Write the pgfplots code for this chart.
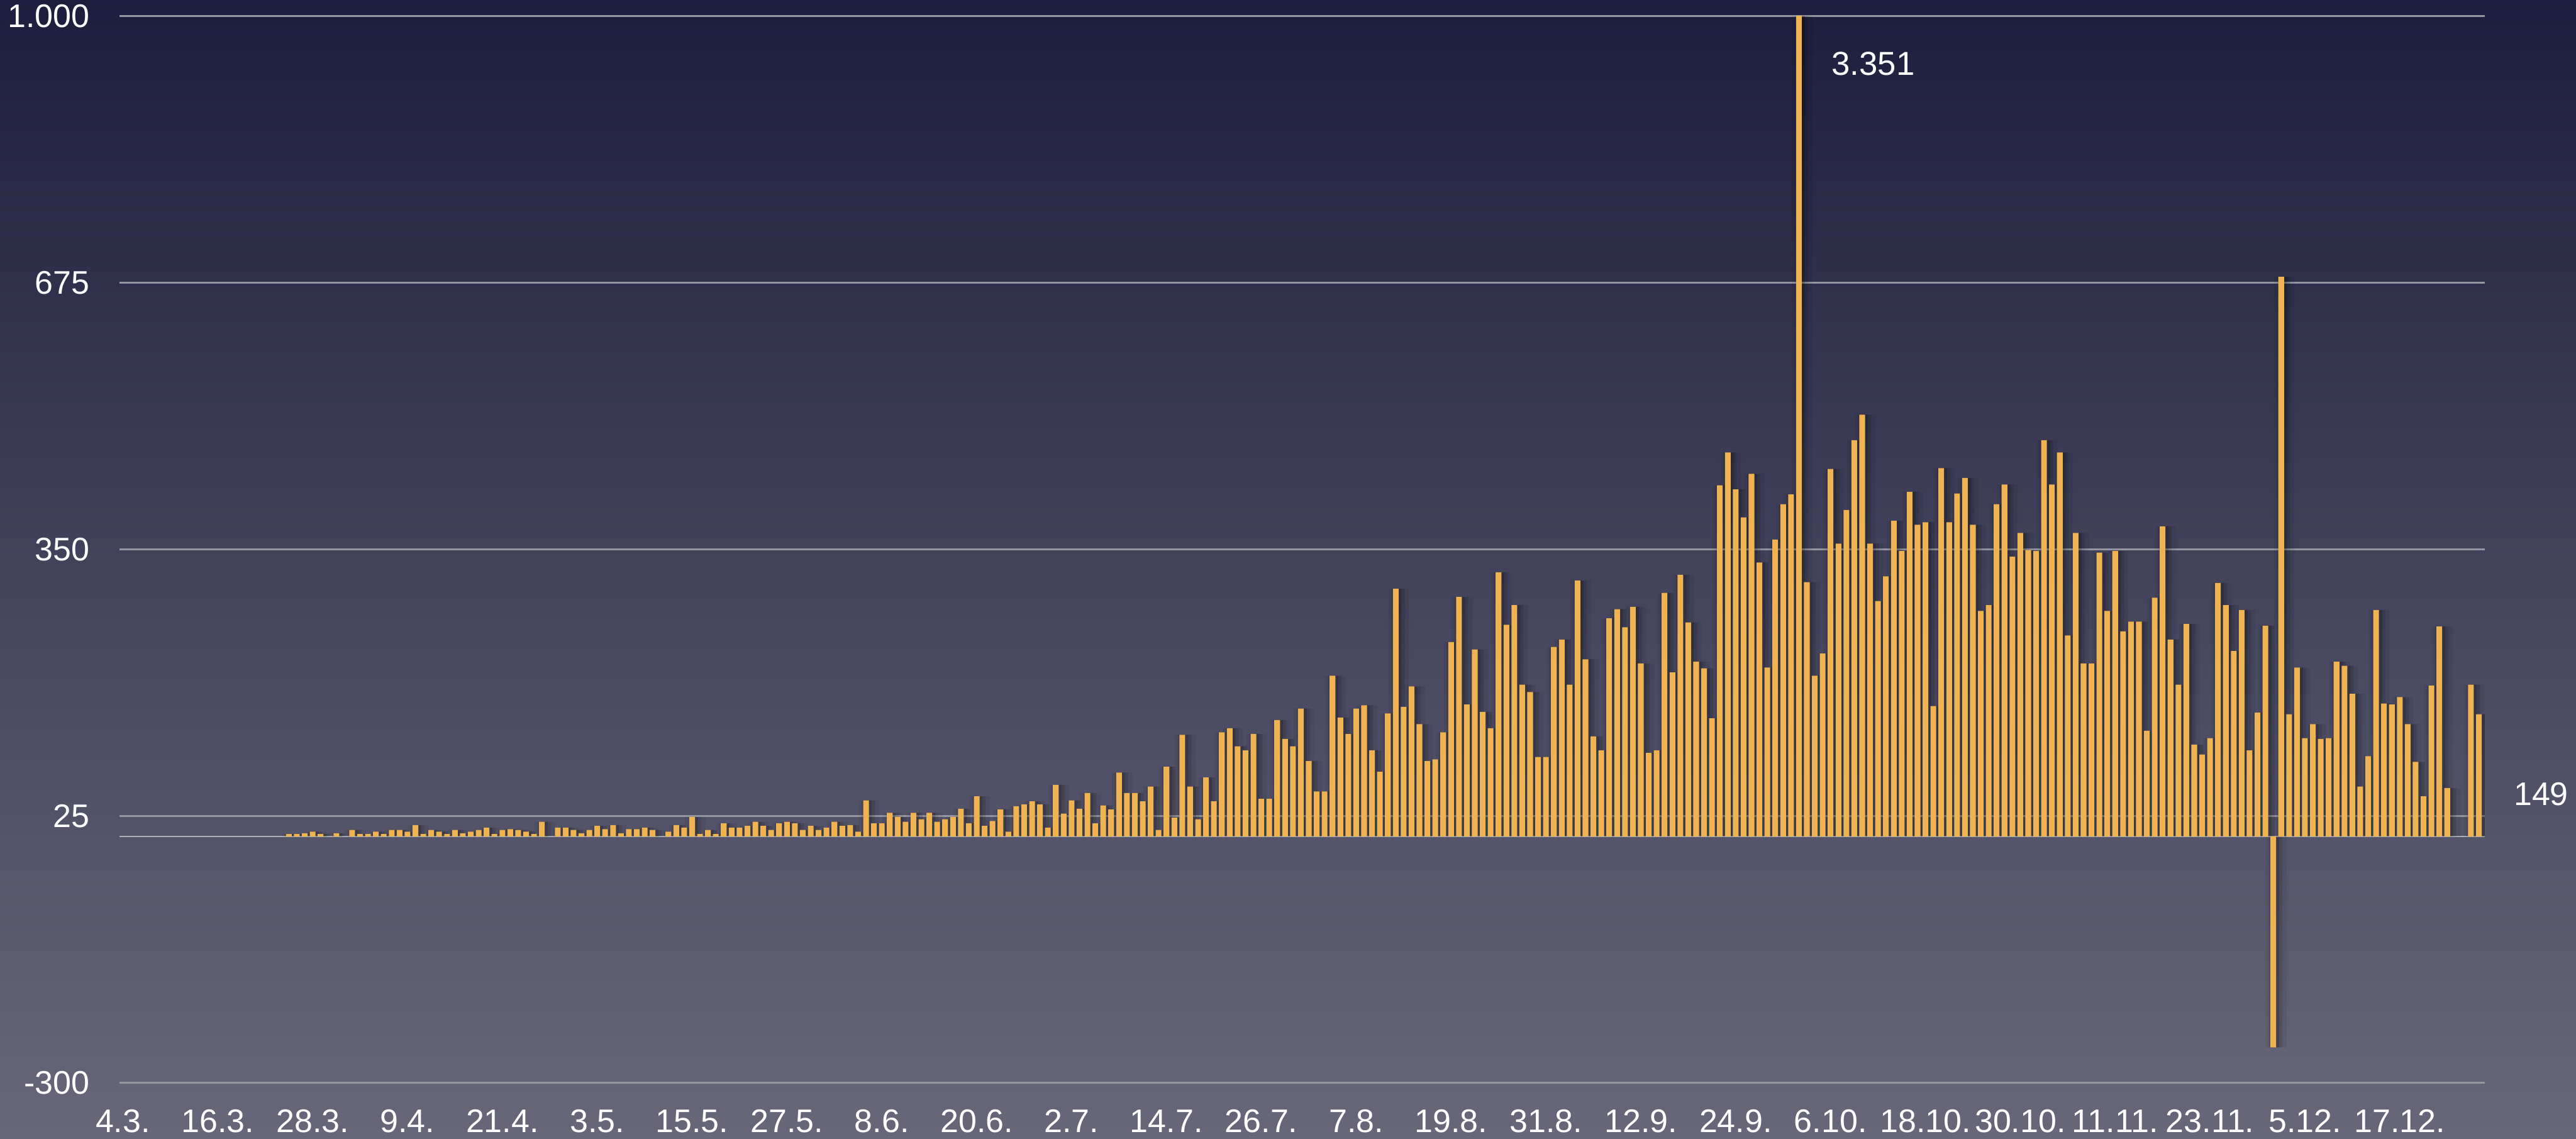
\documentclass[border=0pt]{standalone}
\usepackage{fontspec}
\setmainfont{Liberation Sans}
\usepackage{pgfplots}
\usepackage{pgfplotstable}
\pgfplotsset{compat=1.18}
\definecolor{bgtop}{RGB}{29,30,61}
\definecolor{bgbot}{RGB}{104,103,122}
\definecolor{barc}{RGB}{239,179,82}
\definecolor{gridc}{RGB}{150,150,162}
\definecolor{basec}{RGB}{175,175,182}

\pgfplotstableread{
day val
21 3
22 3
23 4
24 6
25 3
27 4
29 8
30 3
31 3
32 6
33 3
34 8
35 8
36 6
37 14
38 3
39 8
40 6
41 3
42 8
43 4
44 6
45 8
46 11
47 3
48 8
49 9
50 8
51 6
52 3
53 18
55 11
56 11
57 8
58 4
59 8
60 13
61 9
62 14
63 4
64 9
65 9
66 11
67 8
69 6
70 14
71 11
72 24
73 3
74 8
75 3
76 16
77 11
78 11
79 13
80 18
81 13
82 8
83 16
84 18
85 16
86 8
87 13
88 8
89 11
90 18
91 13
92 14
93 6
94 44
95 16
96 16
97 29
98 24
99 18
100 29
101 21
102 29
103 18
104 21
105 24
106 34
107 16
108 49
109 13
110 19
111 33
112 6
113 37
114 39
115 43
116 39
117 11
118 63
119 28
120 44
121 34
122 53
123 16
124 38
125 33
126 78
127 53
128 53
129 43
130 61
131 8
132 85
133 23
134 124
135 61
136 21
137 72
138 43
139 127
140 132
141 110
142 105
143 125
144 46
145 46
146 142
147 119
148 110
149 156
150 92
151 55
152 55
153 196
154 145
155 125
156 156
157 160
158 105
159 79
160 150
161 302
162 158
163 183
164 137
165 92
166 94
167 127
168 237
169 292
170 161
171 228
172 152
173 132
174 322
175 258
176 282
177 185
178 176
179 97
180 97
181 231
182 240
183 185
184 312
185 216
186 122
187 105
188 266
189 277
190 255
191 280
192 211
193 102
194 105
195 297
196 200
197 319
198 261
199 213
200 205
201 144
202 428
203 468
204 423
205 389
206 442
207 334
208 206
209 362
210 405
211 417
212 3351
213 310
214 196
215 223
216 448
217 357
218 398
219 483
220 514
221 357
222 287
223 317
224 385
225 348
226 420
227 380
228 383
229 159
230 449
231 383
232 418
233 437
234 380
235 275
236 282
237 405
238 429
239 341
240 370
241 349
242 348
243 483
244 429
245 468
246 245
247 370
248 211
249 211
250 346
251 275
252 348
253 250
254 262
255 262
256 129
257 291
258 378
259 240
260 185
261 259
262 112
263 100
264 120
265 309
266 282
267 226
268 276
269 105
270 151
271 257
272 -257
273 682
274 149
275 206
276 120
277 137
278 119
279 120
280 213
281 208
282 174
283 61
284 98
285 276
286 162
287 161
288 170
289 137
290 91
291 49
292 184
293 256
294 59
297 185
298 149
}\casedata

\begin{document}
\begin{tikzpicture}
\useasboundingbox (0,0) rectangle (496.9bp,219.6bp);
\shade[top color=bgtop, bottom color=bgbot] (0,0) rectangle (496.9bp,219.6bp);
\begin{axis}[
  at={(23bp,10.75bp)}, anchor=south west,
  scale only axis, width=456.3bp, height=205.78bp,
  xmin=-0.46, xmax=298.75, ymin=-300, ymax=1000,
  axis line style={draw=none},
  major tick length=0pt, tick style={draw=none},
  xtick={0,12,...,288},
  xticklabels={4.3.,16.3.,28.3.,9.4.,21.4.,3.5.,15.5.,27.5.,8.6.,20.6.,2.7.,14.7.,26.7.,7.8.,19.8.,31.8.,12.9.,24.9.,6.10.,18.10.,30.10.,11.11.,23.11.,5.12.,17.12.},
  ytick={-300,25,350,675,1000},
  yticklabels={-300,25,350,675,1.000},
  ymajorgrids,
  grid style={gridc, line width=0.3bp},
  extra y ticks={0}, extra y tick labels={},
  extra y tick style={grid=major, grid style={basec, line width=0.3bp}},
  tick label style={font=\fontsize{6.3bp}{7bp}\selectfont, text=white},
  xticklabel style={anchor=north, inner sep=0pt, yshift=-5.0bp},
  yticklabel style={anchor=east, inner sep=0pt, xshift=-5.5bp},
  /pgf/number format/assume math mode=true,
  clip mode=individual,
]
\addplot[ybar, bar width=2.6, bar shift=0.4, fill=black, fill opacity=0.06, draw=none] table[x=day,y=val]{\casedata};
\addplot[ybar, bar width=1.7, bar shift=0.3, fill=black, fill opacity=0.10, draw=none] table[x=day,y=val]{\casedata};
\addplot[ybar, bar width=1.1, bar shift=0.2, fill=black, fill opacity=0.16, draw=none] table[x=day,y=val]{\casedata};
\addplot[ybar, bar width=0.72, bar shift=0, fill=barc, draw=none] table[x=day,y=val]{\casedata};
\node[anchor=west, inner sep=0pt, text=white, font=\fontsize{6.4bp}{7bp}\selectfont] at (axis cs:216.0,942) {3.351};
\node[anchor=west, inner sep=0pt, text=white, font=\fontsize{6.3bp}{7bp}\selectfont] at (axis cs:302.3,51.5) {149};
\end{axis}
\end{tikzpicture}
\end{document}
